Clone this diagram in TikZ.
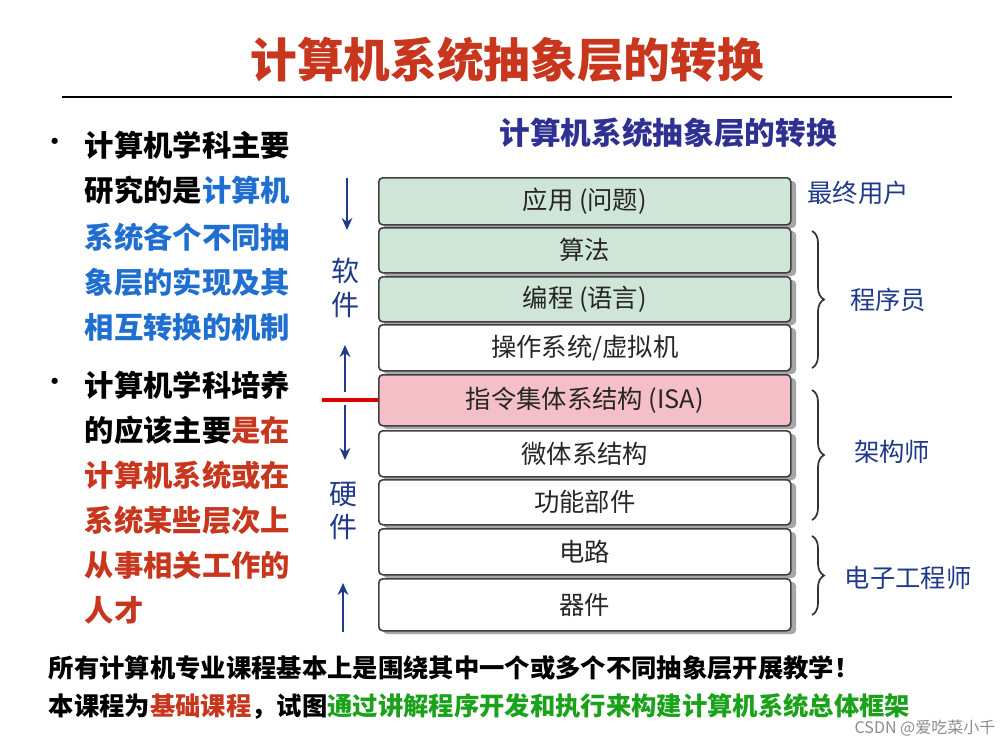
\documentclass[tikz,border=0pt]{standalone}
\usepackage{fontspec}
\setmainfont{Noto Sans CJK SC}
\usetikzlibrary{decorations.pathreplacing,arrows.meta}
\definecolor{tred}{HTML}{C8361E}
\definecolor{tblue}{HTML}{1F6FD0}
\definecolor{sub}{HTML}{2E3192}
\definecolor{lab}{HTML}{1F3A8A}
\definecolor{tgreen}{HTML}{1AA21A}
\definecolor{gfill}{HTML}{CFE5D8}
\definecolor{pfill}{HTML}{F5BFC7}
\begin{document}
\begin{tikzpicture}[x=0.75pt,y=-0.75pt,
  lay/.style={draw=black!75,line width=1.2pt,rounded corners=3pt,minimum width=412*0.75pt,inner sep=0pt,font=\fontsize{19}{19}\selectfont,text=black!85,anchor=north west},
  shad/.style={fill=black!35,rounded corners=3pt},
  ltxt/.style={anchor=west,font=\fontsize{22}{22}\selectfont\bfseries},
  rlab/.style={font=\fontsize{19}{19}\selectfont,text=lab},
  br/.style={decorate,decoration={brace,amplitude=9pt},line width=1.3pt,draw=black!80},
  arr/.style={-{Stealth[length=9pt,width=8pt]},line width=1.6pt,draw=lab}]
\useasboundingbox (0,0) rectangle (1006,746);
\fill[white] (0,0) rectangle (1006,746);
\node[font=\fontsize{35}{35}\selectfont\bfseries,text=tred] (title) at (507,60) {计算机系统抽象层的转换};
\draw[line width=0.8pt] (62,97) coordinate (l1) -- (952,97) coordinate (l2);
% left text
\node[font=\fontsize{22}{22}\selectfont] (b1) at (55,145) {•};
\node[font=\fontsize{22}{22}\selectfont] (b2) at (55,385) {•};
\node[ltxt] (t1) at (80,145) {计算机学科主要};
\node[ltxt] (t2) at (80,190) {研究的是\textcolor{tblue}{计算机}};
\node[ltxt,text=tblue] (t3) at (80,237) {系统各个不同抽};
\node[ltxt,text=tblue] (t4) at (80,282) {象层的实现及其};
\node[ltxt,text=tblue] (t5) at (80,327) {相互转换的机制};
\node[ltxt] (t6) at (80,385) {计算机学科培养};
\node[ltxt] (t7) at (80,430) {的应该主要\textcolor{tred}{是在}};
\node[ltxt,text=tred] (t8) at (80,475) {计算机系统或在};
\node[ltxt,text=tred] (t9) at (80,520) {系统某些层次上};
\node[ltxt,text=tred] (t10) at (80,565) {从事相关工作的};
\node[ltxt,text=tred] (t11) at (80,610) {人才};
\node[font=\fontsize{23}{23}\selectfont\bfseries,text=sub] (sub) at (668,133) {计算机系统抽象层的转换};
% layers
\foreach \n/\t/\b/\c/\txt in {a/177/224/gfill/{应用 (问题)}, b/227/272/gfill/{算法}, c/276/321/gfill/{编程 (语言)}, d/324/370/white/{操作系统/虚拟机}, e/374/425/pfill/{指令集体系结构 (ISA)}, f/430/476/white/{微体系结构}, g/479/524/white/{功能部件}, h/528/574/white/{电路}, i/578/630/white/{器件}}{
  \fill[shad] (383,\t+4) rectangle (796,\b+4);
  \node[lay,fill=\c,minimum height={(\b-\t)*0.75pt}] (\n) at (378,\t) {\txt};
}
% right labels
\node[rlab] (u) at (858,193) {最终用户};
\draw[br] (812,231) -- (812,368);
\node[rlab] (p) at (888,300) {程序员};
\draw[br] (812,390) -- (812,520);
\node[rlab] (ar) at (892,452) {架构师};
\draw[br] (812,536) -- (812,615);
\node[rlab] (ee) at (908,578) {电子工程师};
% left arrows
\coordinate (s1) at (347,178); \coordinate (s2) at (347,230);
\coordinate (s3) at (345,392); \coordinate (s4) at (345,345);
\coordinate (h1) at (345,405); \coordinate (h2) at (345,460);
\coordinate (h3) at (343,632); \coordinate (h4) at (343,583);
\draw[arr] (s1) -- (s2);
\draw[arr] (s3) -- (s4);
\draw[arr] (h1) -- (h2);
\draw[arr] (h3) -- (h4);
\node[font=\fontsize{21}{21}\selectfont,text=lab,align=center] (sw) at (345,288) {软\\[4pt]件};
\node[font=\fontsize{21}{21}\selectfont,text=lab,align=center] (hw) at (343,511) {硬\\[4pt]件};
\coordinate (r1) at (322,0);
\draw[line width=3pt,draw=red!85!black] (r1 |- e.west) -- (e.west);
% bottom
\node[anchor=west,font=\fontsize{19}{19}\selectfont\bfseries] (bt1) at (44,668) {所有计算机专业课程基本上是围绕其中一个或多个不同抽象层开展教学！};
\node[anchor=west,font=\fontsize{19}{19}\selectfont\bfseries] (bt2) at (44,706) {本课程为\textcolor{tred}{基础课程}，试图\textcolor{tgreen}{通过讲解程序开发和执行来构建计算机系统总体框架}};
\node[anchor=east,font=\fontsize{12}{12}\selectfont,text=black!45] (wm) at (1000,728) {CSDN @爱吃菜小千};
\end{tikzpicture}
\end{document}
